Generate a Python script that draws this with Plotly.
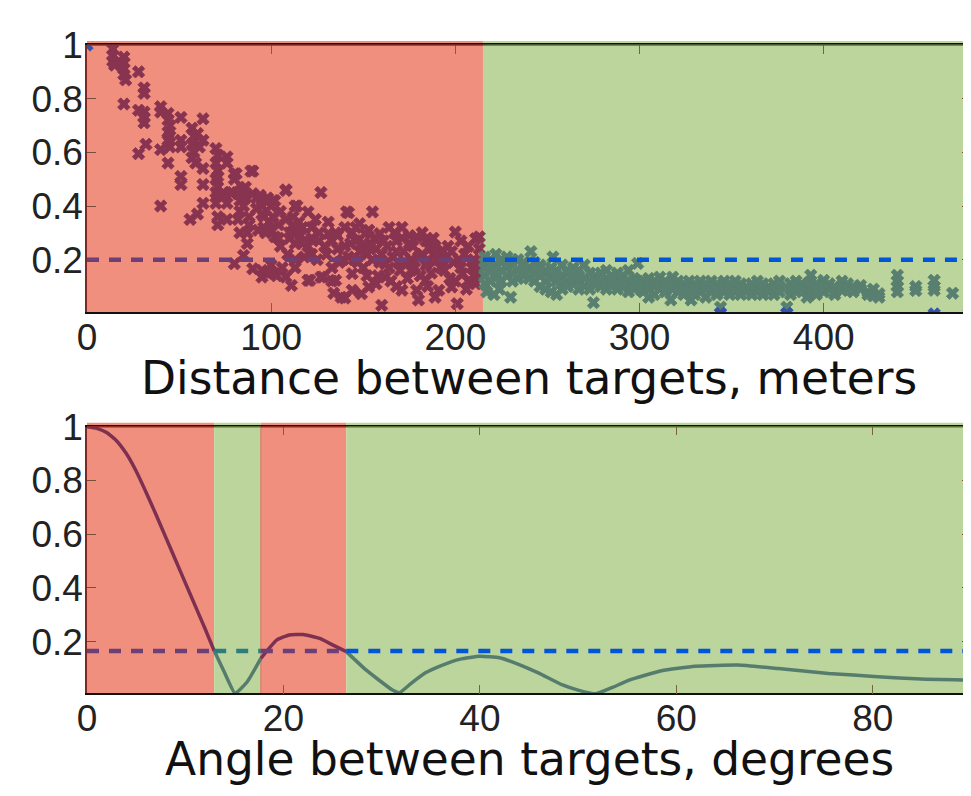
import plotly.graph_objects as go

# ---------------- data ----------------
dist_split = 215          # boundary between red and green zones (meters)
dist_threshold = 0.2      # dashed threshold, top panel
dist_max = 480

angle_bounds = [0, 12.95, 17.7, 26.4, 90]   # red, green, red, green
angle_threshold = 0.165

dist_ticks = [0, 100, 200, 300, 400]
angle_ticks = [0, 20, 40, 60, 80]
corr_ticks = [0.2, 0.4, 0.6, 0.8, 1.0]
corr_ticktext = ["0.2", "0.4", "0.6", "0.8", "1"]

red_points = [
    (14, 0.985), (14, 0.96), (14, 0.94), (15, 0.925), (20, 0.955), (20, 0.935), (20, 0.91), (20, 0.89),
    (21, 0.87), (20, 0.78), (28, 0.90), (31, 0.84), (31, 0.82), (28, 0.757), (31, 0.75), (31, 0.73),
    (31, 0.71), (32, 0.63), (28, 0.595), (40, 0.77), (40, 0.75), (44, 0.745), (44, 0.72), (45, 0.70),
    (44, 0.675), (45, 0.66), (44, 0.645), (45, 0.62), (40, 0.61), (44, 0.56), (40, 0.40), (51, 0.73),
    (51, 0.645), (51, 0.62), (51, 0.51), (51, 0.48), (56, 0.35), (60, 0.37), (63, 0.41), (57, 0.69),
    (58, 0.66), (57, 0.63), (58, 0.60), (57, 0.58), (59, 0.56), (60, 0.67), (61, 0.62), (63, 0.725),
    (63, 0.645), (63, 0.54), (63, 0.48), (70, 0.614), (71, 0.59), (70, 0.56), (71, 0.53), (71, 0.51),
    (70, 0.50), (76, 0.583), (76, 0.56), (71, 0.47), (70, 0.45), (71, 0.44), (70, 0.41), (71, 0.36),
    (71, 0.33), (76, 0.41), (76, 0.35), (74, 0.45), (79, 0.45), (80, 0.52), (80, 0.50), (82, 0.445),
    (83, 0.42), (84, 0.46), (90, 0.53), (86, 0.47), (90, 0.446), (92, 0.43), (83, 0.38), (82, 0.35),
    (83, 0.30), (87, 0.30), (87, 0.26), (88, 0.36), (80, 0.185), (85, 0.216), (90, 0.166), (95, 0.42),
    (95, 0.40), (95, 0.37), (96, 0.32), (101, 0.42), (100, 0.40), (101, 0.36), (108, 0.458), (97, 0.30),
    (102, 0.285), (104, 0.28), (99, 0.34), (95, 0.16), (95, 0.135), (98, 0.15), (102, 0.148), (108, 0.135),
    (111, 0.104), (106, 0.17), (113, 0.40), (112, 0.36), (112, 0.33), (112, 0.30), (117, 0.32), (117, 0.26),
    (116, 0.29), (120, 0.378), (127, 0.45), (113, 0.20), (113, 0.17), (120, 0.123), (128, 0.135), (122, 0.32),
    (122, 0.28), (122, 0.22), (126, 0.30), (131, 0.297), (133, 0.27), (129, 0.25), (133, 0.17), (133, 0.12),
    (138, 0.06), (137, 0.19), (141, 0.378), (155, 0.378), (140, 0.32), (140, 0.25), (148, 0.334), (144, 0.30),
    (151, 0.297), (152, 0.22), (146, 0.27), (144, 0.148), (144, 0.086), (149, 0.073), (153, 0.098), (160, 0.03),
    (159, 0.297), (164, 0.32), (168, 0.27), (171, 0.32), (162, 0.185), (162, 0.135), (170, 0.16), (175, 0.26),
    (179, 0.285), (184, 0.27), (171, 0.086), (179, 0.086), (180, 0.05), (184, 0.123), (188, 0.22), (193, 0.235),
    (200, 0.303), (203, 0.27), (191, 0.086), (189, 0.06), (201, 0.036), (198, 0.098), (204, 0.148), (211, 0.278),
    (213, 0.285), (209, 0.17), (211, 0.11),
    (125, 0.2), (130, 0.22), (136, 0.24), (139, 0.2), (142, 0.21), (147, 0.19), (150, 0.17), (155, 0.2),
    (157, 0.24), (160, 0.22), (163, 0.25), (166, 0.21), (169, 0.19), (172, 0.23), (176, 0.2), (178, 0.17),
    (182, 0.22), (185, 0.19), (187, 0.15), (190, 0.2), (192, 0.17), (195, 0.21), (197, 0.13), (199, 0.19),
    (202, 0.2), (205, 0.22), (207, 0.12), (210, 0.2), (212, 0.15), (214, 0.18), (213, 0.24), (156, 0.28),
    (150, 0.26), (158, 0.14), (165, 0.12), (174, 0.13), (181, 0.14), (194, 0.16), (206, 0.09), (196, 0.25),
    (188, 0.28), (171, 0.28), (167, 0.3), (146, 0.32), (135, 0.3), (131, 0.34), (126, 0.27), (120, 0.25),
    (118, 0.21), (109, 0.22), (105, 0.25), (100, 0.18), (110, 0.3), (104, 0.33), (115, 0.34), (124, 0.35),
    (136, 0.29), (143, 0.26), (153, 0.31), (161, 0.27), (177, 0.25), (186, 0.24), (175, 0.29), (182, 0.3),
    (81, 0.52), (89, 0.53), (108, 0.46), (142, 0.375), (114, 0.40), (74, 0.44), (78, 0.45), (86, 0.43),
    (94, 0.44), (98, 0.43), (102, 0.42), (92, 0.39), (96, 0.36), (88, 0.33), (93, 0.31), (100, 0.31),
    (105, 0.38), (108, 0.35), (85, 0.4), (110, 0.28), (113, 0.26), (118, 0.27), (100, 0.153), (103, 0.14),
    (121, 0.123), (127, 0.135), (135, 0.123), (134, 0.075), (140, 0.057),
    (148, 0.23), (154, 0.25), (159, 0.19), (164, 0.17), (168, 0.23), (173, 0.19), (180, 0.21), (184, 0.18),
    (189, 0.25), (193, 0.2), (198, 0.23), (203, 0.17), (207, 0.25), (210, 0.14), (145, 0.2), (152, 0.14),
    (157, 0.11), (168, 0.1), (176, 0.16), (185, 0.1), (200, 0.12), (212, 0.19),
]

green_points = [
    (216, 0.21), (216, 0.17), (216, 0.14), (216, 0.11), (216, 0.19), (217, 0.08), (221, 0.07), (224, 0.09),
    (219, 0.2), (219, 0.16), (219, 0.12), (219, 0.18), (222, 0.22), (222, 0.18), (222, 0.15), (222, 0.13),
    (225, 0.19), (225, 0.16), (225, 0.2), (225, 0.12), (228, 0.21), (228, 0.17), (228, 0.14), (230, 0.06),
    (231, 0.18), (231, 0.15), (231, 0.12), (231, 0.2), (234, 0.2), (234, 0.16), (234, 0.13),
    (237, 0.18), (237, 0.14), (237, 0.19), (237, 0.15), (241, 0.23), (240, 0.17), (240, 0.13), (240, 0.16),
    (243, 0.19), (243, 0.15), (243, 0.12), (246, 0.18), (246, 0.14), (246, 0.17), (246, 0.1),
    (249, 0.16), (249, 0.12), (249, 0.09), (249, 0.15), (253, 0.21), (252, 0.17), (252, 0.13), (252, 0.08),
    (255, 0.16), (255, 0.12), (255, 0.14), (255, 0.07), (258, 0.18), (258, 0.14), (258, 0.11), (258, 0.09),
    (261, 0.15), (261, 0.12), (261, 0.1), (261, 0.16), (264, 0.17), (264, 0.13), (264, 0.11),
    (267, 0.14), (267, 0.12), (267, 0.09), (267, 0.16), (270, 0.18), (270, 0.13), (270, 0.1),
    (273, 0.15), (273, 0.12), (273, 0.09), (273, 0.11), (276, 0.14), (276, 0.11), (275, 0.04), (276, 0.13),
    (279, 0.15), (279, 0.12), (279, 0.1), (282, 0.16), (282, 0.13), (282, 0.11), (282, 0.09),
    (285, 0.14), (285, 0.12), (285, 0.1), (288, 0.13), (288, 0.11), (288, 0.09), (288, 0.15),
    (291, 0.14), (291, 0.12), (291, 0.1), (294, 0.16), (294, 0.12), (294, 0.1), (294, 0.08),
    (297, 0.13), (297, 0.11), (297, 0.09), (299, 0.186), (299, 0.12),
    (302, 0.12), (302, 0.1), (302, 0.08), (305, 0.13), (305, 0.11), (305, 0.09), (305, 0.06),
    (308, 0.12), (308, 0.1), (308, 0.07), (311, 0.135), (311, 0.11), (311, 0.09),
    (314, 0.12), (314, 0.1), (314, 0.08), (318, 0.135), (318, 0.11), (318, 0.09), (317, 0.05),
    (321, 0.12), (321, 0.1), (321, 0.08), (324, 0.11), (324, 0.09), (324, 0.07),
    (327, 0.12), (327, 0.1), (327, 0.08), (328, 0.05), (330, 0.11), (330, 0.09), (330, 0.07),
    (333, 0.12), (333, 0.1), (333, 0.08), (336, 0.11), (336, 0.09), (336, 0.06),
    (339, 0.12), (339, 0.1), (339, 0.08), (342, 0.11), (342, 0.09), (342, 0.07), (344, 0.023),
    (346, 0.12), (346, 0.1), (346, 0.08), (349, 0.11), (349, 0.09), (349, 0.07),
    (352, 0.1), (352, 0.08), (352, 0.12), (355, 0.11), (355, 0.09), (355, 0.07), (358, 0.1), (358, 0.08),
    (361, 0.11), (361, 0.09), (361, 0.07), (364, 0.1), (364, 0.08), (364, 0.12),
    (367, 0.09), (367, 0.07), (367, 0.11), (370, 0.1), (370, 0.08), (373, 0.11), (373, 0.09), (373, 0.07),
    (376, 0.1), (376, 0.08), (376, 0.12), (380, 0.023), (382, 0.11), (382, 0.09), (382, 0.07),
    (385, 0.1), (385, 0.08), (385, 0.12), (388, 0.11), (388, 0.09), (391, 0.1), (391, 0.08), (391, 0.06),
    (393, 0.142), (393, 0.12), (396, 0.11), (396, 0.09), (396, 0.07), (400, 0.123), (400, 0.1), (400, 0.08),
    (403, 0.11), (403, 0.09), (406, 0.1), (406, 0.08), (406, 0.07), (410, 0.12), (410, 0.1), (410, 0.085),
    (413, 0.11), (413, 0.09), (416, 0.1), (416, 0.08), (420, 0.104), (420, 0.09), (424, 0.08), (424, 0.07),
    (427, 0.09), (427, 0.065), (430, 0.073), (430, 0.06),
    (440, 0.142), (440, 0.12), (440, 0.1), (440, 0.08), (450, 0.1), (450, 0.085),
    (460, 0.123), (460, 0.1), (460, 0.086), (470, 0.075),
]

blue_points = [(0, 1.0), (344, 0.0), (380, 0.0), (460, -0.002), (479, -0.002)]

angle_deg = [0, 1, 2, 3, 4, 5, 6, 7, 8, 9, 10, 11, 12, 12.95, 14.0, 15.07,
             16.3, 17.7, 19.3, 20.6, 22.0, 23.7, 25.0, 26.4, 28.4, 31.1, 31.8, 33.0, 34.5, 36.0, 38.0,
             40.0, 42.0, 44.0, 46.0, 48.4, 50.0, 51.8, 53.5, 55.2, 58.5, 61.9, 66.3, 70.4, 75.5, 80.5,
             84.9, 90]
angle_corr = [1.0, 0.994, 0.978, 0.948, 0.90, 0.835, 0.757, 0.675, 0.59, 0.505, 0.42, 0.335, 0.25,
              0.166, 0.085, 0.008, 0.05, 0.138, 0.206, 0.225, 0.227, 0.212, 0.188, 0.163, 0.095, 0.02,
              0.01, 0.045, 0.085, 0.11, 0.135, 0.146, 0.14, 0.115, 0.083, 0.039, 0.02, 0.006, 0.03,
              0.057, 0.092, 0.109, 0.113, 0.1, 0.082, 0.07, 0.061, 0.057]

# ---------------- style ----------------
RED_BG = "#F18F7F"
GREEN_BG = "#BBD59C"
RED_MK = "#883450"
GREEN_MK = "#587F6F"
BLUE_MK = "#3352B0"
RED_LINE = "#7D3050"
GREEN_LINE = "#567C6E"
PURPLE_DASH = "#6C4077"
TEAL_DASH = "#2E7C7E"
BLUE_DASH = "#0055D8"
TICK_FONT = dict(family="Liberation Sans, Arial, sans-serif", size=37, color="#222222")
TITLE_FONT = dict(family="DejaVu Sans, sans-serif", size=45.5, color="#111111")
DASH = "12px,10px"

# page body has an 8px margin, so the figure is laid out 8px smaller
OFF = 8
W, H = 971 - OFF, 796 - 2 * OFF
top_dom = [1 - (312 - OFF) / H, 1 - (45 - OFF) / H]
bot_dom = [1 - (693.3 - OFF) / H, 1 - (426.7 - OFF) / H]

fig = go.Figure()

mk = lambda c: dict(symbol="x", size=11, color=c, line=dict(width=0.8, color=c))

# ---- top panel ----
fig.add_trace(go.Scatter(x=[p[0] for p in red_points], y=[p[1] for p in red_points], mode="markers",
                         marker=mk(RED_MK), xaxis="x", yaxis="y", showlegend=False))
fig.add_trace(go.Scatter(x=[p[0] for p in green_points], y=[p[1] for p in green_points], mode="markers",
                         marker=mk(GREEN_MK), xaxis="x", yaxis="y", showlegend=False))
fig.add_trace(go.Scatter(x=[p[0] for p in blue_points], y=[p[1] for p in blue_points], mode="markers",
                         marker=mk(BLUE_MK), xaxis="x", yaxis="y", showlegend=False))
fig.add_trace(go.Scatter(x=[0, dist_split], y=[dist_threshold, dist_threshold], mode="lines",
                         line=dict(color=PURPLE_DASH, width=4.5, dash=DASH),
                         xaxis="x", yaxis="y", showlegend=False))
fig.add_trace(go.Scatter(x=[dist_split, dist_max], y=[dist_threshold, dist_threshold], mode="lines",
                         line=dict(color=BLUE_DASH, width=4.5, dash=DASH),
                         xaxis="x", yaxis="y", showlegend=False))

# ---- bottom panel ----
def seg(lo, hi):
    xs, ys = [], []
    for a, c in zip(angle_deg, angle_corr):
        if lo - 1e-9 <= a <= hi + 1e-9:
            xs.append(a)
            ys.append(c)
    return xs, ys

band_colors = [RED_LINE, GREEN_LINE, RED_LINE, GREEN_LINE]
dash_colors = [PURPLE_DASH, TEAL_DASH, PURPLE_DASH, BLUE_DASH]
for i in range(4):
    lo, hi = angle_bounds[i], angle_bounds[i + 1]
    xs, ys = seg(lo, hi)
    fig.add_trace(go.Scatter(x=xs, y=ys, mode="lines",
                             line=dict(color=band_colors[i], width=3.5, shape="spline", smoothing=0.4),
                             xaxis="x2", yaxis="y2", showlegend=False))
for i in range(4):
    lo, hi = angle_bounds[i], angle_bounds[i + 1]
    fig.add_trace(go.Scatter(x=[lo, hi], y=[angle_threshold, angle_threshold], mode="lines",
                             line=dict(color=dash_colors[i], width=4.5, dash=DASH),
                             xaxis="x2", yaxis="y2", showlegend=False))

# ---- background zones ----
shapes = []
ext = 4 / H
shapes.append(dict(type="rect", xref="x", yref="paper", x0=0, x1=dist_split,
                   y0=top_dom[0], y1=top_dom[1] + ext, fillcolor=RED_BG, line=dict(width=0), layer="below"))
shapes.append(dict(type="rect", xref="x", yref="paper", x0=dist_split, x1=dist_max,
                   y0=top_dom[0], y1=top_dom[1] + ext, fillcolor=GREEN_BG, line=dict(width=0), layer="below"))
bg_cols = [RED_BG, GREEN_BG, RED_BG, GREEN_BG]
for i in range(4):
    shapes.append(dict(type="rect", xref="x2", yref="paper", x0=angle_bounds[i], x1=angle_bounds[i + 1],
                       y0=bot_dom[0], y1=bot_dom[1] + ext, fillcolor=bg_cols[i], line=dict(width=0),
                       layer="below"))
shapes.append(dict(type="line", xref="x2", yref="paper", x0=angle_bounds[2], x1=angle_bounds[2],
                   y0=bot_dom[0], y1=bot_dom[1], line=dict(color="#D9705C", width=1), layer="below"))
shapes.append(dict(type="line", xref="x", yref="paper", x0=0, x1=dist_split, y0=top_dom[1], y1=top_dom[1],
                   line=dict(color="#8E2E22", width=1.5), layer="above"))
shapes.append(dict(type="line", xref="x", yref="paper", x0=dist_split, x1=dist_max, y0=top_dom[1], y1=top_dom[1],
                   line=dict(color="#5A6E3A", width=1.5), layer="above"))
top_cols = ["#8E2E22", "#5A6E3A", "#8E2E22", "#5A6E3A"]
for i in range(4):
    shapes.append(dict(type="line", xref="x2", yref="paper", x0=angle_bounds[i], x1=angle_bounds[i + 1],
                       y0=bot_dom[1], y1=bot_dom[1], line=dict(color=top_cols[i], width=1.5), layer="above"))

common_x = dict(showgrid=False, zeroline=False, showline=True, linecolor="#111111", linewidth=1.5,
                ticks="inside", ticklen=9, tickwidth=1, tickcolor="#7A5E48", mirror="ticks",
                tickfont=TICK_FONT, automargin=False, ticklabelstandoff=-8)
common_y = dict(showgrid=False, zeroline=False, showline=True, linecolor="#7A2A22", linewidth=1.5,
                ticks="inside", ticklen=9, tickwidth=1, tickcolor="#7A4E3C", mirror="ticks",
                tickfont=TICK_FONT, tickvals=corr_ticks, ticktext=corr_ticktext, automargin=False,
                ticklabelstandoff=-5)

fig.update_layout(
    width=W, height=H,
    margin=dict(l=87 - OFF, r=0, t=0, b=0),
    paper_bgcolor="white", plot_bgcolor="rgba(0,0,0,0)",
    xaxis=dict(domain=[0, 1], range=[0, dist_max], anchor="y", tickvals=dist_ticks, **common_x),
    yaxis=dict(domain=top_dom, range=[0.005, 1.0], anchor="x", **common_y),
    xaxis2=dict(domain=[0, 1], range=[0, 90], anchor="y2", tickvals=angle_ticks, **common_x),
    yaxis2=dict(domain=bot_dom, range=[0.008, 1.0], anchor="x2", **common_y),
    shapes=shapes,
    annotations=[
        dict(text="Distance between targets, meters", xref="paper", yref="paper", x=0.5,
             y=1 - (378 - OFF) / H, xanchor="center", yanchor="middle", showarrow=False, font=TITLE_FONT),
        dict(text="Angle between targets, degrees", xref="paper", yref="paper", x=0.5,
             y=1 - (759 - OFF) / H, xanchor="center", yanchor="middle", showarrow=False, font=TITLE_FONT),
    ],
)

fig.write_html("out.html")
